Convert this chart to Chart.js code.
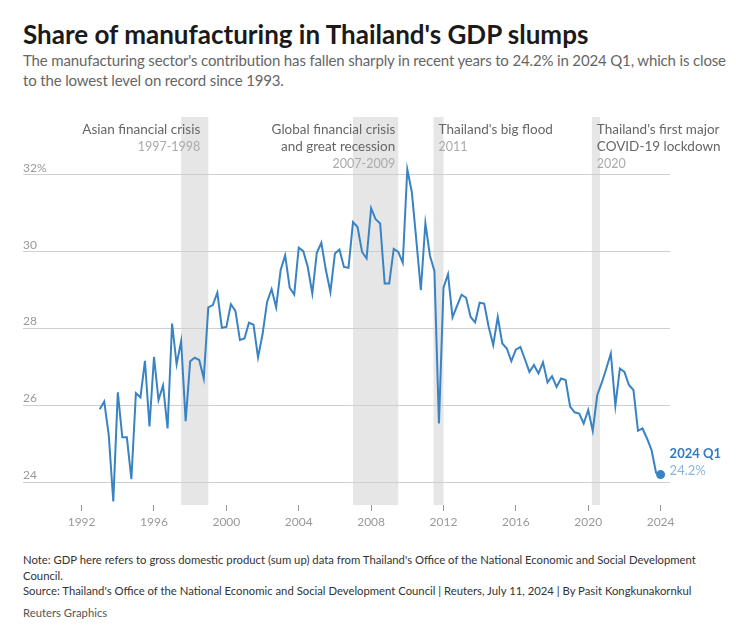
<!DOCTYPE html>
<html>
<head>
<meta charset="utf-8">
<script src="https://cdn.jsdelivr.net/npm/chart.js@4.4.0/dist/chart.umd.min.js"></script>
<style>
  body { margin: 0; background: #fff; font-family: Lato, "Open Sans", sans-serif; }
  #wrap { position: relative; width: 736px; height: 628px; }
  .title { position: absolute; left: 23px; top: 18px; font-size: 26px; font-weight: bold; color: #1a1a1a; line-height: 32px; }
  .sub { position: absolute; left: 23px; top: 50px; font-size: 15px; letter-spacing: -0.15px; color: #666; line-height: 20px; white-space: nowrap; }
  .note { position: absolute; left: 23px; top: 552px; font-size: 11.3px; color: #333; line-height: 15.5px; white-space: nowrap; }
  .brand { position: absolute; left: 23px; top: 606px; font-size: 11.3px; color: #555; }
  canvas { position: absolute; left: 0; top: 100px; }
</style>
</head>
<body>
<div id="wrap">
  <div class="title">Share of manufacturing in Thailand's GDP slumps</div>
  <div class="sub">The manufacturing sector's contribution has fallen sharply in recent years to 24.2% in 2024 Q1, which is close<br>to the lowest level on record since 1993.</div>
  <canvas id="gdp-chart" width="736" height="440"></canvas>
  <div class="note">Note: GDP here refers to gross domestic product (sum up) data from Thailand's Office of the National Economic and Social Development<br>Council.<br>Source: Thailand's Office of the National Economic and Social Development Council | Reuters, July 11, 2024 | By Pasit Kongkunakornkul</div>
  <div class="brand">Reuters Graphics</div>
</div>
<script>
// quarterly share of manufacturing in GDP (%), 1993 Q1 .. 2024 Q1
const startYear = 1993;
const shareValues = [
    25.90, 26.10, 25.23, 23.50,
    26.34, 25.17, 25.17, 24.08,
    26.32, 26.21, 27.16, 25.45,
    27.26, 26.14, 26.52, 25.40,
    28.13, 27.07, 27.67, 25.59,
    27.15, 27.24, 27.18, 26.70,
    28.55, 28.61, 28.93, 28.02,
    28.04, 28.63, 28.46, 27.70,
    27.74, 28.15, 28.10, 27.25,
    27.85, 28.69, 29.02, 28.55,
    29.52, 29.90, 29.06, 28.88,
    30.10, 30.01, 29.60, 28.91,
    29.97, 30.23, 29.52, 28.95,
    29.95, 30.05, 29.60, 29.58,
    30.77, 30.64, 29.99, 29.82,
    31.13, 30.84, 30.73, 29.17,
    29.17, 30.07, 29.99, 29.71,
    32.14, 31.55, 30.29, 29.00,
    30.74, 29.90, 29.49, 25.53,
    29.06, 29.41, 28.29, 28.59,
    28.88, 28.80, 28.30, 28.16,
    28.67, 28.65, 28.04, 27.57,
    28.30, 27.61, 27.48, 27.15,
    27.45, 27.52, 27.20, 26.87,
    27.05, 26.83, 27.12, 26.60,
    26.76, 26.48, 26.70, 26.66,
    25.97, 25.82, 25.79, 25.53,
    25.88, 25.34, 26.27, 26.59,
    26.96, 27.35, 25.99, 26.96,
    26.87, 26.53, 26.40, 25.34,
    25.40, 25.14, 24.84, 24.25,
    24.20
];
const xTicks = [1992, 1996, 2000, 2004, 2008, 2012, 2016, 2020, 2024];
const yTicks = [24, 26, 28, 30, 32];
const lastLabel = "2024 Q1";
const lastValueLabel = "24.2%";

// shaded periods
const eventNames = [["Asian financial crisis"], ["Global financial crisis", "and great recession"], ["Thailand's big flood"], ["Thailand's first major", "COVID-19 lockdown"]];
const eventYears = ["1997-1998", "2007-2009", "2011", "2020"];
const eventStart = [1997.5, 2007.0, 2011.45, 2020.2];
const eventEnd = [1999.0, 2009.5, 2012.0, 2020.65];
const eventAlign = ["right", "right", "left", "left"];
const eventTextShift = [-8, -3, 5, 5];

const points = shareValues.map((v, i) => ({ x: startYear + i / 4, y: v }));
const lastIdx = points.length - 1;

const lineBlue = '#3a83c3';

const eventsPlugin = {
    id: 'events',
    beforeDraw(chart) {
        const { ctx, chartArea, scales } = chart;
        ctx.save();
        ctx.fillStyle = '#e6e6e6';
        eventStart.forEach((s, i) => {
            const x1 = scales.x.getPixelForValue(s);
            const x2 = scales.x.getPixelForValue(eventEnd[i]);
            ctx.fillRect(x1, chartArea.top, x2 - x1, chartArea.bottom - chartArea.top);
        });
        ctx.restore();
    },
    afterDraw(chart) {
        const { ctx, chartArea, scales } = chart;
        ctx.save();
        ctx.textBaseline = 'middle';
        eventStart.forEach((s, i) => {
            const align = eventAlign[i];
            const edge = align === 'right' ? eventEnd[i] : s;
            const x = scales.x.getPixelForValue(edge) + eventTextShift[i];
            ctx.textAlign = align;
            let y = 30;
            ctx.font = '13.5px Lato';
            ctx.fillStyle = '#666';
            eventNames[i].forEach(line => {
                ctx.fillText(line, x, y);
                y += 17;
            });
            ctx.fillStyle = '#aaa';
            ctx.font = '12.5px Lato';
            ctx.fillText(eventYears[i], x, y);
        });

        // y labels sitting on the gridlines
        ctx.textAlign = 'left';
        ctx.textBaseline = 'alphabetic';
        ctx.font = '12px Lato';
        ctx.fillStyle = '#999';
        yTicks.forEach((t, i) => {
            const y = scales.y.getPixelForValue(t);
            ctx.fillText(i === yTicks.length - 1 ? t + '%' : String(t), chartArea.left, y - 3);
        });

        // end label
        const px = scales.x.getPixelForValue(points[lastIdx].x);
        const py = scales.y.getPixelForValue(points[lastIdx].y);
        ctx.textBaseline = 'middle';
        ctx.font = 'bold 13px Lato';
        ctx.fillStyle = '#2f7bbd';
        ctx.fillText(lastLabel, px + 9, py - 21);
        ctx.font = '13px Lato';
        ctx.fillStyle = '#86b6df';
        ctx.fillText(lastValueLabel, px + 9, py - 4);
        ctx.restore();
    }
};

new Chart(document.getElementById("gdp-chart"), {
    type: "line",
    data: {
        datasets: [
            {
                data: points,
                borderColor: lineBlue,
                borderWidth: 2,
                tension: 0,
                fill: false,
                pointRadius: (c) => (c.dataIndex === lastIdx ? 4.5 : 0),
                pointBackgroundColor: lineBlue,
                pointBorderWidth: 0,
            },
        ],
    },
    options: {
        responsive: false,
        animation: false,
        layout: {
            padding: { left: 23, right: 66, top: 17, bottom: 0 }
        },
        plugins: {
            legend: { display: false },
            tooltip: { enabled: false },
        },
        scales: {
            x: {
                type: 'linear',
                min: 1988.76,
                max: 2024.52,
                afterBuildTicks: (axis) => { axis.ticks = xTicks.map(v => ({ value: v })); },
                afterFit: (axis) => { axis.height = 35; },
                border: { display: false },
                grid: { drawOnChartArea: false, tickLength: 6, tickColor: '#999' },
                ticks: {
                    color: '#999',
                    font: { family: 'Lato', size: 12 },
                    padding: 4,
                    maxRotation: 0,
                    callback: (v) => String(v),
                },
            },
            y: {
                min: 23.41,
                max: 33.5,
                afterBuildTicks: (axis) => { axis.ticks = yTicks.map(v => ({ value: v })); },
                afterFit: (axis) => { axis.width = 0; },
                border: { display: false },
                grid: { color: '#cfcfcf', drawTicks: false },
                ticks: { display: false },
            },
        },
    },
    plugins: [eventsPlugin],
});
</script>
</body>
</html>
